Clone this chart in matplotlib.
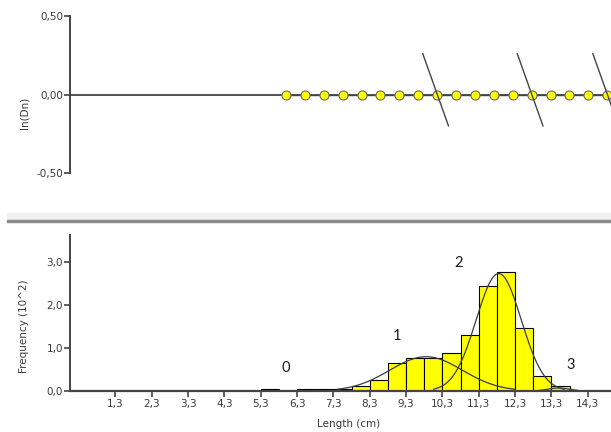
import numpy as np
import matplotlib
matplotlib.use('Agg')
import matplotlib.pyplot as plt
from matplotlib.patches import Rectangle


# length classes (cm, left edge) and frequencies (10^2)
BIN_LEFT = [5.3, 6.3, 6.8, 7.3, 7.8, 8.3, 8.8, 9.3, 9.8, 10.3, 10.8,
            11.3, 11.8, 12.3, 12.8, 13.3]
FREQ = [0.04, 0.04, 0.04, 0.04, 0.12, 0.26, 0.66, 0.78, 0.77, 0.89, 1.30,
        2.45, 2.78, 1.46, 0.36, 0.12]
BIN_W = 0.5

# fitted normal components: mean, sd, peak height
COMP_MEAN = [9.85, 11.85, 13.5]
COMP_SD = [1.0, 0.62, 0.3]
COMP_PEAK = [0.80, 2.74, 0.07]

# cohort labels
COH_TXT = ['0', '1', '2', '3']
COH_X = [5.99, 9.04, 10.75, 13.84]
COH_Y = [0.54, 1.28, 2.98, 0.61]

# ln(Dn) points of the upper panel
LN_X = [6.05 + 0.5 * i for i in range(18)]
LN_Y = [0.0] * 18
CUT_X = [10.05, 12.55, 14.55]

XTICKS = [1.3, 2.3, 3.3, 4.3, 5.3, 6.3, 7.3, 8.3, 9.3, 10.3, 11.3,
          12.3, 13.3, 14.3]

TXT = '#3a3a3a'
AX = '#444444'
FS = 7.5


def style_axis(ax):
    for s in ('top', 'right', 'bottom'):
        ax.spines[s].set_visible(False)
    ax.spines['left'].set_color(AX)
    ax.spines['left'].set_linewidth(1.4)
    ax.tick_params(axis='y', colors=AX, labelcolor=TXT, labelsize=FS,
                   length=4, width=1.2, pad=1)


def main():
    plt.rcParams['font.family'] = 'DejaVu Sans'
    fig = plt.figure(figsize=(6.11, 4.32), dpi=100)

    # upper panel
    ax1 = fig.add_axes([70 / 611, 1 - 173 / 432, 1 - 70 / 611, 157 / 432])
    style_axis(ax1)
    ax1.set_xlim(0.336, 14.65)
    ax1.set_ylim(-0.5, 0.5)
    ax1.set_xticks([])
    ax1.set_yticks([-0.5, 0.0, 0.5])
    ax1.set_yticklabels(['-0,50', '0,00', '0,50'])
    ax1.axhline(0, color=AX, lw=1.3, zorder=1)
    ax1.plot(LN_X, LN_Y, '-', color=AX, lw=1.0, marker='o', ms=6.5,
             mfc='#ffff00', mec='#6a6a6a', mew=0.8, zorder=3)
    for cx in CUT_X:
        ax1.plot([cx - 0.38, cx + 0.30], [0.26, -0.20], color='#444444',
                 lw=1.0, zorder=4, clip_on=False)
    ax1.set_ylabel('ln(Dn)', fontsize=FS, color=TXT)
    ax1.yaxis.set_label_coords(-0.075, 0.38)

    # separator band between panels
    fig.patches.append(Rectangle((7 / 611, 1 - 220 / 432), 1, 7 / 432,
                                 transform=fig.transFigure,
                                 color='#f0f0f0', zorder=0))
    fig.patches.append(Rectangle((7 / 611, 1 - 222 / 432), 1, 2 / 432,
                                 transform=fig.transFigure,
                                 color='#8a8a8a', zorder=0))

    # lower panel: length frequency histogram
    ax2 = fig.add_axes([70 / 611, 1 - 391 / 432, 1 - 70 / 611, 156 / 432])
    style_axis(ax2)
    ax2.spines['bottom'].set_visible(True)
    ax2.spines['bottom'].set_color(AX)
    ax2.spines['bottom'].set_linewidth(1.6)
    ax2.set_xlim(0.05, 14.94)
    ax2.set_ylim(0, 3.64)
    ax2.set_yticks([0, 1, 2, 3])
    ax2.set_yticklabels(['0,0', '1,0', '2,0', '3,0'])
    ax2.set_xticks(XTICKS)
    ax2.set_xticklabels([('%.1f' % v).replace('.', ',') for v in XTICKS])
    ax2.tick_params(axis='x', colors=AX, labelcolor=TXT, labelsize=FS,
                    length=4, width=1.2, pad=2)
    ax2.bar(BIN_LEFT, FREQ, width=BIN_W, align='edge', color='#ffff00',
            edgecolor='black', linewidth=0.8, zorder=2)

    xs = np.linspace(5.0, 15.0, 600)
    for m, sd, pk in zip(COMP_MEAN, COMP_SD, COMP_PEAK):
        ys = pk * np.exp(-0.5 * ((xs - m) / sd) ** 2)
        keep = ys > min(0.04, pk * 0.2)
        ax2.plot(xs[keep], ys[keep], color='#3c3c3c', lw=0.9, zorder=3)

    for t, x, y in zip(COH_TXT, COH_X, COH_Y):
        ax2.text(x, y, t, fontsize=10.5, family='Lato', color='#1a1a1a',
                 ha='center', va='center', zorder=5)

    ax2.set_ylabel('Frequency (10^2)', fontsize=FS, color=TXT)
    ax2.yaxis.set_label_coords(-0.075, 0.417)
    ax2.set_xlabel('Length (cm)', fontsize=FS, color=TXT)
    ax2.xaxis.set_label_coords(0.515, -0.18)

    fig.savefig('out.png', dpi=100)
    plt.close('all')


if __name__ == '__main__':
    main()
